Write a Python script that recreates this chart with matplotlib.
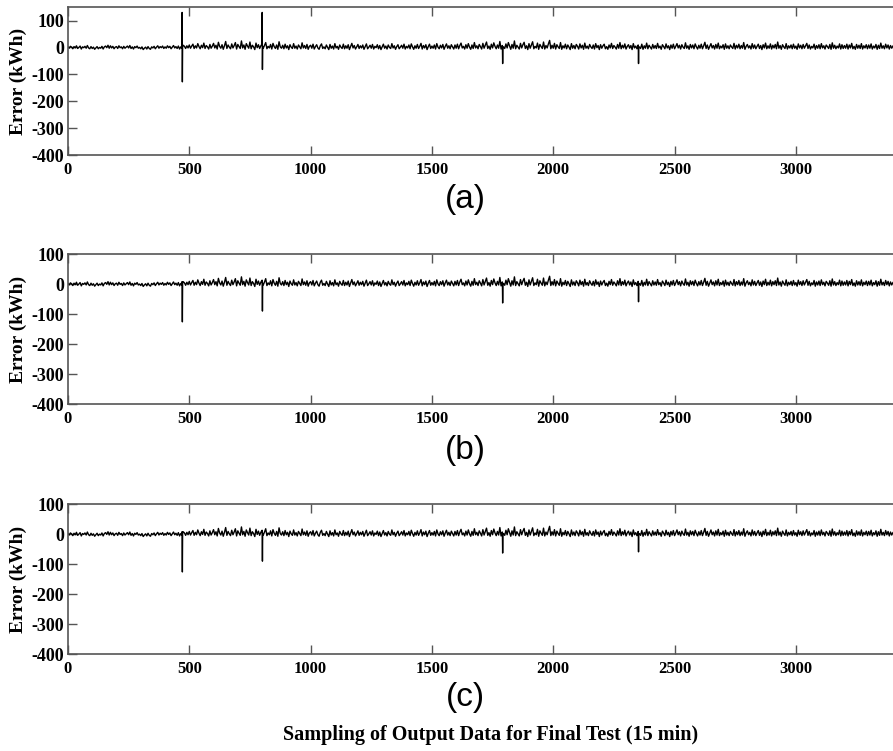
import numpy as np
import matplotlib.pyplot as plt

plt.rcParams['axes.unicode_minus'] = False

# error samples read every 5 points (0 .. 3400), shared shape for the three models
x_base = np.arange(0, 3405, 5)
noise = [
    2, -3, 4, 1, -5, 3, -2, 6, -4, 0, 5, -6, 2, -1, 4, -3, 7, -2, -5, 3,
    -4, 1, -7, -2, 3, -5, 0, -3, 4, -6, 2, 5, -1, 8, -3, 6, -2, 4, -5, 1,
    3, -4, 6, -1, 2, -5, 4, -3, 1, 5, -2, 7, -4, 2, -6, 3, -1, 5, -3, 0,
    -5, 2, -8, -3, 1, -6, 3, -4, -7, 2, -2, 4, -5, 1, 6, -3, 3, -1, 5, -4,
    2, -3, 6, -1, 4, -5, 1, 7, -2, 3, -4, 5, -6, 2, -3, 8, 4, -4, 6, -2,
    9, -3, 5, 12, -4, 6, -2, 14, 3, -5, 8, -1, 16, -4, 7, 2, -6, 11, -3, 5,
    15, -2, 8, -6, 19, 4, -3, 10, -7, 6, 22, -4, 9, 1, -5, 13, -2, 7, 18, -6,
    11, 3, -4, 24, -2, 9, -7, 14, 5, -3, 20, -5, 8, 2, -8, 16, -1, 10, -4, 6,
    13, -3, 7, 18, -5, 4, -2, 11, -6, 15, 3, -4, 9, -7, 21, 2, -3, 8, -5, 12,
    -2, 6, -8, 10, 1, -4, 14, -3, 5, -6, 9, 2, -5, 17, -2, 7, -4, 11, -7, 4,
    8, -3, 12, -6, 3, 10, -2, -7, 6, 13, -4, 2, -5, 9, 0, -8, 11, -3, 5, -6,
    14, -2, 4, -7, 9, 1, -4, 12, -5, 6, -3, 10, -8, 3, 15, -2, 7, -6, 2, 11,
    -4, 6, -2, 9, -7, 3, 13, -5, 1, 8, -3, 11, -6, 4, -1, 10, -5, 7, -8, 2,
    12, -3, 5, -6, 9, 0, -4, 14, -2, 6, -7, 3, 10, -5, 1, 8, -3, 12, -6, 4,
    -2, 9, -5, 13, 2, -7, 6, -3, 11, -4, 4, 15, -6, 7, -2, 10, -8, 3, 12, -4,
    5, -3, 9, -6, 14, 1, -5, 8, -2, 11, -7, 4, 13, -3, 6, -5, 10, 2, -6, 9,
    -3, 12, -5, 7, 16, -2, 4, -6, 10, -3, 14, 1, -7, 9, -4, 18, -2, 6, -5, 11,
    3, -6, 15, -3, 8, 20, -4, 5, -7, 12, -2, 17, 4, -5, 9, -3, 22, -6, 7, 2,
    -4, 13, -2, 18, 5, -7, 11, -3, 24, -5, 8, 1, -6, 15, -2, 10, 19, -4, 6, -8,
    14, -3, 9, 21, -5, 4, -2, 16, -7, 11, 3, -4, 20, -6, 7, -2, 13, 26, -5, 8,
    -3, 15, -6, 10, 2, -4, 18, -7, 6, -2, 12, -5, 9, 1, -8, 14, -3, 7, -5, 11,
    4, -6, 13, -2, 8, -7, 16, -3, 5, -5, 11, 2, -4, 9, -6, 14, -1, 7, -8, 10,
    -3, 6, 12, -5, 3, -7, 9, -2, 15, -4, 7, 1, -6, 11, -3, 18, -5, 8, -2, 13,
    -6, 4, 10, -3, 7, -8, 14, -2, 5, -5, 9, 2, -4, 12, -7, 6, -3, 16, -5, 8,
    1, -6, 11, -3, 7, -4, 15, -2, 5, -7, 10, 3, -5, 13, -2, 6, -8, 9, -3, 12,
    -5, 4, 14, -2, 8, -6, 10, 1, -4, 17, -3, 6, -7, 11, -2, 9, -5, 13, 2, -6,
    8, -3, 12, -5, 6, 19, -4, 9, -7, 3, 14, -2, 7, -6, 11, -3, 16, -5, 5, -2,
    10, -7, 13, -3, 6, -5, 9, 2, -4, 15, -6, 8, -2, 12, -5, 7, -3, 18, -7, 4,
    11, -2, 6, -6, 14, -3, 9, -5, 4, 12, -4, 7, -8, 10, -2, 16, -5, 6, -3, 13,
    -6, 8, -2, 11, -5, 20, -3, 7, -7, 10, 2, -4, 14, -6, 6, -2, 9, -5, 12, -3,
    5, -7, 13, -2, 8, -5, 11, -3, 6, 15, -4, 9, -6, 4, -2, 12, -7, 7, -3, 10,
    -5, 14, -2, 6, -6, 9, 3, -4, 11, -7, 17, -3, 8, -5, 5, -2, 13, -6, 10, -4,
    7, -3, 12, -6, 9, -2, 15, -5, 4, -7, 11, -3, 8, -4, 14, -6, 6, -2, 10, -5,
    9, -3, 13, -6, 5, -2, 11, -7, 8, -4, 16, -3, 6, -5, 12, -2, 9, -6, 7, -3,
    5,
]

# spikes (sample index, peak up, peak down, value right after)
spike_pos = [470, 800, 1790, 2350]
spike_back = [2, 3, 0, 0]
spike_hi_a = [130, 130, 5, 5]
spike_lo_a = [-128, -82, -60, -60]
spike_hi_b = [8, 12, 6, 5]
spike_lo_b = [-126, -90, -63, -59]
spike_hi_c = [8, 12, 6, 5]
spike_lo_c = [-126, -90, -63, -59]


def build(hi, lo):
    xs = (list(x_base) + [p + 0.5 for p in spike_pos] + [p + 1.5 for p in spike_pos]
          + [p + 2.5 for p in spike_pos])
    ys = list(noise) + hi + lo + spike_back
    order = np.argsort(xs, kind='stable')
    return np.array(xs)[order], np.array(ys)[order]


serif = 'Liberation Serif'
fig = plt.figure(figsize=(8.93, 7.51), dpi=100)

panels = [
    ((0.0761, 0.7936, 0.951, 0.197), spike_hi_a, spike_lo_a, 150, '(a)', 0.734, 0.892),
    ((0.0761, 0.462, 0.951, 0.1997), spike_hi_b, spike_lo_b, 100, '(b)', 0.400, 0.562),
    ((0.0761, 0.129, 0.951, 0.1997), spike_hi_c, spike_lo_c, 100, '(c)', 0.071, 0.229),
]

for pos, hi, lo, top, tag, tag_y, lab_y in panels:
    ax = fig.add_axes(pos)
    xs, ys = build(hi, lo)
    ax.plot(xs, ys, color='black', linewidth=1.0)
    ax.set_xlim(0, 3500)
    ax.set_ylim(-400, top)
    ax.set_xticks(range(0, 3001, 500))
    ax.set_yticks(range(-400, 101, 100))
    ax.tick_params(direction='in', length=6.5, width=1, color='#555555',
                   top=True, right=True)
    ax.tick_params(axis='x', pad=5)
    ax.tick_params(axis='y', pad=2.5)
    for lbl in ax.get_xticklabels():
        lbl.set_fontfamily(serif)
        lbl.set_fontweight('bold')
        lbl.set_fontsize(12)
    for lbl in ax.get_yticklabels():
        lbl.set_fontfamily(serif)
        lbl.set_fontweight('bold')
        lbl.set_fontsize(13)
    for sp in ax.spines.values():
        sp.set_color('#555555')
        sp.set_linewidth(1.2)
    fig.text(0.0207, lab_y, 'Error (kWh)', rotation=90, ha='center', va='center',
             family=serif, fontweight='bold', fontsize=14)
    fig.text(0.521, tag_y, tag, ha='center', va='center',
             family='Liberation Sans', fontsize=24)

fig.text(0.549, 0.021, 'Sampling of Output Data for Final Test (15 min)',
         ha='center', va='center', family=serif, fontweight='bold', fontsize=14.5)

fig.savefig('out.png', dpi=100)
